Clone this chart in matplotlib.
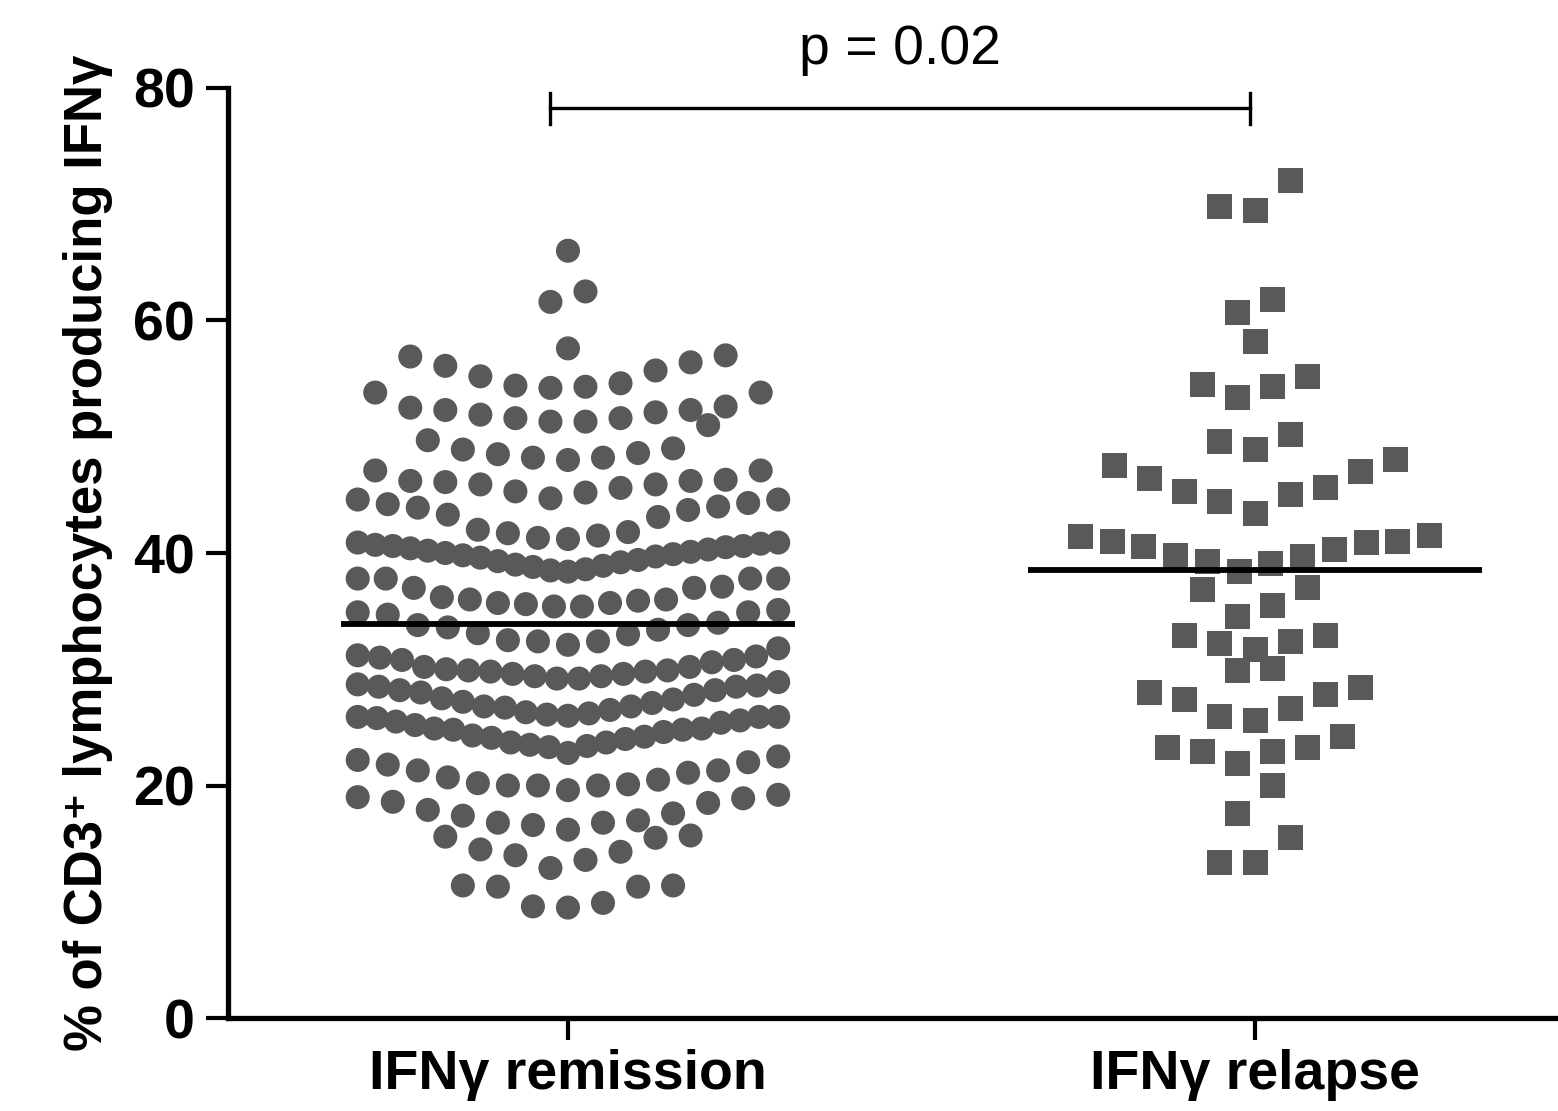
import numpy as np
import matplotlib.pyplot as plt

plt.rcParams['font.family'] = ['Liberation Sans', 'DejaVu Sans']

# data
groups = ['IFNγ remission', 'IFNγ relapse']

remission = [
    66.0, 62.5, 61.6, 57.6,
    54.2, 54.3, 54.4, 54.6, 55.2, 55.7, 56.1, 56.4, 56.9, 57.0,
    51.3, 51.3, 51.6, 51.6, 51.9, 52.1, 52.3, 52.3, 52.5, 52.6, 53.8, 53.8,
    48.0, 48.2, 48.2, 48.5, 48.6, 48.9, 49.0, 49.7, 51.0,
    44.7, 45.2, 45.3, 45.6, 45.9, 45.9, 46.1, 46.2, 46.2, 46.3, 47.1, 47.1,
    41.2, 41.3, 41.5, 41.7, 41.8, 42.0, 43.1, 43.3, 43.7, 43.9, 44.0, 44.2,
    44.3, 44.6, 44.6,
    38.4, 38.5, 38.6, 38.8, 38.9, 39.0, 39.2, 39.3, 39.4, 39.6, 39.7, 39.8,
    39.9, 40.0, 40.1, 40.2, 40.3, 40.4, 40.5, 40.6, 40.6, 40.7, 40.8, 40.9,
    40.9,
    35.4, 35.4, 35.6, 35.7, 35.7, 35.9, 36.0, 36.0, 36.2, 37.0, 37.0, 37.1,
    37.8, 37.8, 37.8, 37.8,
    32.1, 32.4, 32.4, 32.5, 33.0, 33.1, 33.4, 33.6, 33.8, 33.8, 34.0, 34.7,
    34.9, 34.9, 35.1,
    29.2, 29.2, 29.4, 29.4, 29.6, 29.6, 29.8, 29.8, 29.9, 29.9, 30.0, 30.2,
    30.2, 30.6, 30.8, 30.8, 31.0, 31.1, 31.2, 31.8,
    26.0, 26.1, 26.2, 26.3, 26.5, 26.7, 26.8, 26.8, 27.1, 27.2, 27.4, 27.5,
    27.8, 28.0, 28.2, 28.2, 28.5, 28.5, 28.6, 28.7, 28.9,
    22.8, 23.3, 23.4, 23.5, 23.7, 23.7, 24.0, 24.1, 24.2, 24.3, 24.6, 24.8,
    24.8, 24.9, 24.9, 25.2, 25.4, 25.5, 25.6, 25.8, 25.9, 25.9, 25.9,
    19.6, 20.0, 20.0, 20.0, 20.1, 20.2, 20.5, 20.7, 21.1, 21.3, 21.3, 21.8,
    22.0, 22.2, 22.5,
    16.2, 16.6, 16.8, 16.8, 17.0, 17.4, 17.6, 17.9, 18.5, 18.6, 18.9, 19.0,
    19.2,
    12.9, 13.6, 14.0, 14.3, 14.5, 15.5, 15.6, 15.7,
    9.5, 9.6, 9.9, 11.3, 11.3, 11.4, 11.4,
]

relapse = [
    72.0, 69.8, 69.5,
    61.8, 60.7, 58.2,
    55.2, 54.5, 54.3, 53.4,
    50.2, 49.6, 48.9,
    48.0, 47.5, 47.0, 46.4, 45.6, 45.3, 45.0, 44.4, 43.4,
    41.5, 41.4, 41.0, 41.0, 40.9, 40.6, 40.3, 39.8, 39.7, 39.3, 39.1, 38.4,
    37.0, 36.9, 35.5, 34.5,
    32.9, 32.9, 32.4, 32.2, 31.7,
    30.1, 29.9,
    28.4, 28.0, 27.8, 27.4, 26.6, 25.9, 25.6,
    24.2, 23.3, 23.3, 22.9, 22.9, 21.9,
    20.0, 17.6, 15.5, 13.4, 13.4,
]

p_label = 'p = 0.02'

# row boundaries used to lay the points out side by side (Prism style)
rem_edges = [12.5, 16, 19.4, 22.7, 25.95, 29.05, 32.0, 35.25, 38.2, 41.05,
             44.65, 47.5, 51.1, 54.0, 57.3, 60, 64]
rel_edges = [16.5, 21, 25, 29, 31, 34, 38, 43, 48.5, 52, 56, 60, 63, 68]


def row_layout(vals, edges, center, step, half_width):
    vals = np.asarray(vals, dtype=float)
    x = np.zeros(len(vals))
    bins = np.digitize(vals, edges)
    for b in np.unique(bins):
        idx = np.where(bins == b)[0]
        idx = idx[np.argsort(vals[idx], kind='stable')]
        n = len(idx)
        d = step if n == 1 else min(step, 2 * half_width / (n - 1))
        slots = []
        if n % 2:
            slots.append(0.0)
            k = 1
            while len(slots) < n:
                slots.append(-k)
                if len(slots) < n:
                    slots.append(k)
                k += 1
        else:
            k = 0.5
            while len(slots) < n:
                slots.append(-k)
                slots.append(k)
                k += 1
        x[idx] = center + np.array(slots[:n]) * d
    return x


fig = plt.figure(figsize=(15.58, 11.11), dpi=100)
ax = fig.add_axes([0.1463, 0.0837, 0.8537, 0.8371])

dot_col = '#595959'
x_rem = row_layout(remission, rem_edges, 0, 0.051, 0.306)
x_rel = row_layout(relapse, rel_edges, 1, 0.051, 0.254)
ax.scatter(x_rem, remission, s=300, marker='o', color=dot_col,
           edgecolors='none', zorder=2, clip_on=False)
ax.scatter(x_rel, relapse, s=324, marker='s', color=dot_col,
           edgecolors='none', zorder=2, clip_on=False)

# mean lines
for i, vals in enumerate([remission, relapse]):
    m = np.mean(vals)
    ax.plot([i - 0.331, i + 0.331], [m, m], color='black', lw=4.2,
            zorder=3, solid_capstyle='butt')

# significance bracket
yb = 78.3
ax.plot([-0.026, 0.993], [yb, yb], color='black', lw=2.4, clip_on=False)
ax.plot([-0.026, -0.026], [yb - 1.4, yb + 1.3], color='black', lw=2.4, clip_on=False)
ax.plot([0.993, 0.993], [yb - 1.4, yb + 1.3], color='black', lw=2.4, clip_on=False)
ax.text(0.4835, 83.3, p_label, ha='center', va='center', fontsize=40,
        clip_on=False)

ax.set_xlim(-0.4949, 1.441)
ax.set_ylim(0, 80)
ax.set_yticks([0, 20, 40, 60, 80])
ax.set_xticks([0, 1])
ax.set_xticklabels(groups)

for s in ['top', 'right']:
    ax.spines[s].set_visible(False)
for s in ['left', 'bottom']:
    ax.spines[s].set_linewidth(3.8)
ax.tick_params(axis='both', length=16, width=3.0, direction='out')
ax.tick_params(axis='y', labelsize=40, pad=8)
ax.tick_params(axis='x', labelsize=40, pad=6)
for lab in ax.get_yticklabels() + ax.get_xticklabels():
    lab.set_fontweight('bold')

ax.set_ylabel('% of CD3⁺ lymphocytes producing IFNγ', fontsize=38,
              fontweight='bold', labelpad=14)

fig.savefig('out.png', dpi=100)
